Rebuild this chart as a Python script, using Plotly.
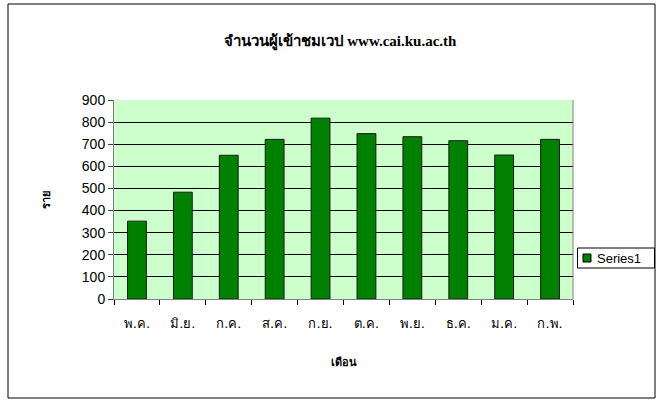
import plotly.graph_objects as go

months = ["พ.ค.", "มิ.ย.", "ก.ค.", "ส.ค.", "ก.ย.", "ต.ค.", "พ.ย.", "ธ.ค.", "ม.ค.", "ก.พ."]
visitors = [352, 483, 650, 722, 818, 748, 734, 716, 651, 722]
y_ticks = [0, 100, 200, 300, 400, 500, 600, 700, 800, 900]
series_name = "Series1"

L, R, T, B = 114, 89, 100, 104
W, H = 662, 403
pw, ph = W - L - R, H - T - B

def px(x):
    return (x - L) / pw

def py(y):
    return (H - B - y) / ph

fig = go.Figure(go.Bar(
    x=months, y=visitors, name=series_name,
    marker=dict(color="#008000", line=dict(color="#1a1a1a", width=1)),
    width=0.41, showlegend=False,
))

fig.update_layout(
    width=W, height=H,
    margin=dict(l=L, r=R, t=T, b=B, autoexpand=False),
    paper_bgcolor="white", plot_bgcolor="#CCFFCC",
    title=dict(text="<b>จำนวนผู้เข้าชมเวป www.cai.ku.ac.th</b>",
               xref="container", x=340 / W, xanchor="center",
               y=1 - 41 / H, yanchor="middle",
               font=dict(family="Liberation Serif", size=15, color="black")),
    shapes=[
        dict(type="rect", xref="paper", yref="paper",
             x0=px(8), x1=px(655), y0=py(398), y1=py(4),
             line=dict(color="black", width=1), layer="below"),
        # legend box
        dict(type="rect", xref="paper", yref="paper",
             x0=px(577.5), x1=px(654.5), y0=py(268), y1=py(248),
             line=dict(color="black", width=1), fillcolor="white"),
        dict(type="rect", xref="paper", yref="paper",
             x0=px(583), x1=px(591), y0=py(262), y1=py(254),
             line=dict(color="black", width=1), fillcolor="#008000"),
        # right border of plot area
        dict(type="line", xref="paper", yref="paper", x0=1, x1=1, y0=0, y1=1,
             line=dict(color="#808080", width=1)),
    ],
    annotations=[dict(text=series_name, xref="paper", yref="paper",
                      x=px(595), y=py(258), xanchor="left", yanchor="middle",
                      showarrow=False,
                      font=dict(family="Liberation Sans", size=13, color="black"))],
)

fig.update_xaxes(
    type="category", tickson="boundaries", ticks="outside", ticklen=5,
    tickcolor="black", showline=True, linecolor="#808080", linewidth=1,
    showgrid=False, mirror=False, ticklabelstandoff=12,
    tickfont=dict(family="DejaVu Sans", size=13, color="black"),
    title=dict(text="<b>เดือน</b>", standoff=28,
               font=dict(family="Liberation Serif", size=11, color="black")),
)
fig.update_yaxes(
    range=[0, 900], tickvals=y_ticks, ticks="outside", ticklen=5,
    tickcolor="#404040", showline=True, linecolor="#808080", linewidth=1,
    showgrid=True, gridcolor="black", gridwidth=1, zeroline=False,
    mirror=False,
    tickfont=dict(family="Liberation Sans", size=14, color="black"),
    title=dict(text="<b>ราย</b>", standoff=28,
               font=dict(family="Liberation Serif", size=11, color="black")),
)

fig.write_html("out.html", config={"displayModeBar": False},
               post_script="document.body.style.margin='0';document.body.style.overflow='hidden';")
